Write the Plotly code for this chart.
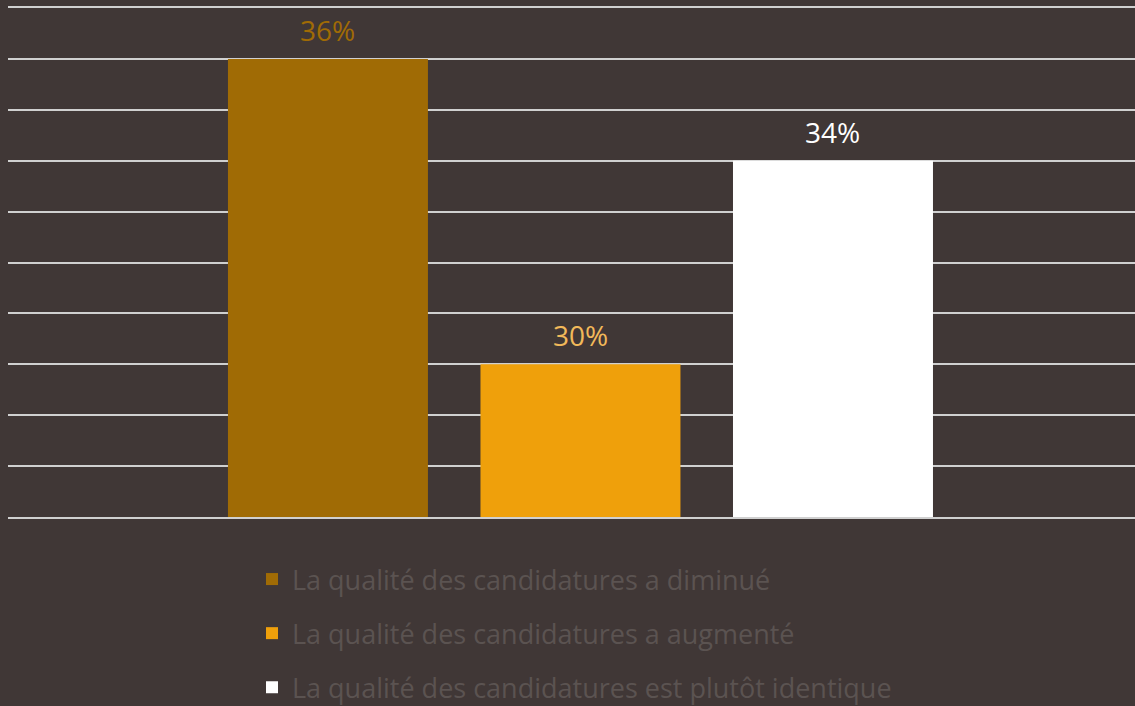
import plotly.graph_objects as go

series = ["La qualité des candidatures a diminué",
          "La qualité des candidatures a augmenté",
          "La qualité des candidatures est plutôt identique"]
values = [36, 30, 34]
bar_colors = ["#A06B05", "#EFA00B", "#FFFFFF"]
label_colors = ["#A06B05", "#F2B95A", "#FFFFFF"]
positions = [0, 1, 2]

BG = "#403736"
FONT = "Open Sans"

fig = go.Figure()
for i, (name, v, c) in enumerate(zip(series, values, bar_colors)):
    fig.add_trace(go.Bar(
        x=[positions[i]], y=[v], name=name, width=0.792,
        marker=dict(color=c, line=dict(width=0)),
        legendgroup=f"g{i}", hoverinfo="skip",
    ))
    fig.add_annotation(x=positions[i], y=v, text=f"{v}%", showarrow=False,
                       yanchor="middle", yshift=29,
                       font=dict(family=FONT, size=28, color=label_colors[i]))

fig.update_layout(
    width=1135, height=706,
    paper_bgcolor=BG, plot_bgcolor=BG,
    margin=dict(l=8, r=0, t=8, b=189),
    showlegend=True,
    legend=dict(orientation="v", x=0.2165, xanchor="left",
                yref="container", y=1 - 555 / 706, yanchor="top",
                font=dict(family=FONT, size=27, color="#5B5351"),
                tracegroupgap=16, bgcolor="rgba(0,0,0,0)"),
    xaxis=dict(range=[-1.267, 3.196], showticklabels=False, showgrid=False,
               zeroline=False, showline=True, mirror=True, linecolor="#D0D0D0",
               linewidth=1.5, layer="above traces", ticks=""),
    yaxis=dict(range=[27, 37], dtick=1, showticklabels=False, showgrid=True,
               gridcolor="#D0D0D0", gridwidth=1.5, zeroline=False, ticks=""),
    font=dict(family=FONT),
)

fig.write_html("out.html", config={"displayModeBar": False}, post_script=(
    "document.body.style.margin='0';"
    "document.body.style.background='" + BG + "';"
    "document.documentElement.style.background='" + BG + "';"))
